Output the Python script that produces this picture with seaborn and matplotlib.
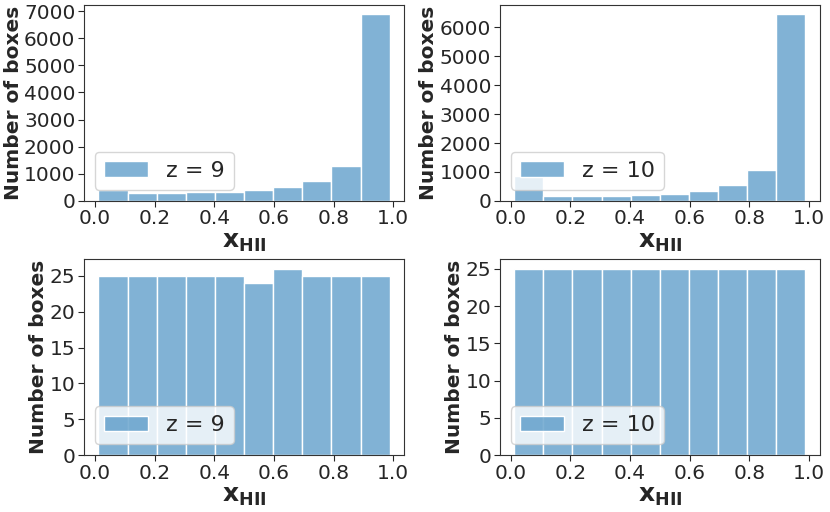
import numpy as np
import pandas as pd
import seaborn as sns
import matplotlib
matplotlib.use("Agg")
import matplotlib.pyplot as plt
from matplotlib.ticker import MultipleLocator

# bin edges shared by all four histograms
edges = np.linspace(0.012, 0.988, 11).tolist()
centers = [(a + b) / 2 for a, b in zip(edges[:-1], edges[1:])]

# counts per bin
counts_top_z9 = [390, 270, 280, 320, 330, 390, 500, 740, 1300, 6880]
counts_top_z10 = [850, 150, 170, 160, 210, 250, 330, 550, 1080, 6450]
counts_bot_z9 = [25, 25, 25, 25, 25, 24, 26, 25, 25, 25]
counts_bot_z10 = [25, 25, 25, 25, 25, 25, 25, 25, 25, 25]

labels = ["z = 9", "z = 10", "z = 9", "z = 10"]
panels = [counts_top_z9, counts_top_z10, counts_bot_z9, counts_bot_z10]
ystep = [1000, 1000, 5, 5]


def main():
    sns.set_style("ticks")
    plt.rcParams["font.family"] = ["DejaVu Sans"]
    plt.rcParams["mathtext.fontset"] = "dejavusans"

    fig, axes = plt.subplots(2, 2, figsize=(8.3, 5.12), dpi=100)
    fig.subplots_adjust(left=0.101, right=0.988, top=0.99, bottom=0.111,
                        wspace=0.297, hspace=0.30)

    for ax, counts, lab, step in zip(axes.flat, panels, labels, ystep):
        df = pd.DataFrame({"x": centers, "n": counts})
        sns.histplot(data=df, x="x", weights="n", bins=edges, ax=ax,
                     color="#1f77b4", alpha=0.56, edgecolor="white",
                     linewidth=1, label=lab)
        ax.set_xticks([0.0, 0.2, 0.4, 0.6, 0.8, 1.0])
        ax.yaxis.set_major_locator(MultipleLocator(step))
        ax.tick_params(labelsize=14.5, length=4, pad=2)
        ax.set_xlabel(r"$\mathbf{x_{HII}}$", fontsize=18, labelpad=1)
        ax.set_ylabel("Number of boxes", fontsize=14.5, fontweight="bold",
                      labelpad=1)
        for s in ax.spines.values():
            s.set_color("#333333")
        ax.legend(loc="lower left", fontsize=16, handlelength=2.0)

    fig.savefig("out.png", dpi=100)


if __name__ == "__main__":
    main()
